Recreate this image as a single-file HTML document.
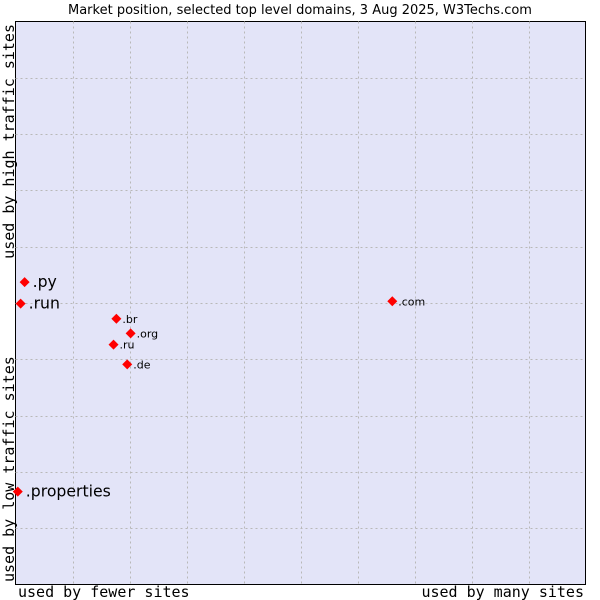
<!DOCTYPE html>
<html><head><meta charset="utf-8"><style>
body{margin:0;background:#fff}
svg{display:block}
text{font-family:"DejaVu Sans","Liberation Sans",sans-serif;fill:#000}
.ax{font-family:"DejaVu Sans Mono","Liberation Mono",monospace;font-size:15px}
</style></head><body>
<svg id="c" width="600" height="600">
<text x="300" y="14" text-anchor="middle" font-size="13">Market position, selected top level domains, 3 Aug 2025, W3Techs.com</text>
<rect x="15.5" y="21.5" width="570" height="563" fill="#e3e4f8" stroke="#000" stroke-width="1"/>
<g id="grid"></g>
<g id="pts"></g>
<text class="ax" x="18" y="597">used by fewer sites</text>
<text class="ax" x="584" y="597" text-anchor="end">used by many sites</text>
<text class="ax" transform="translate(14,582) rotate(-90)">used by low traffic sites</text>
<text class="ax" transform="translate(14,24) rotate(-90)" text-anchor="end">used by high traffic sites</text>
</svg>
<script>
const labels=[".py",".run",".com",".br",".org",".ru",".de",".properties"];
const xs=[1.6,0.9,66.1,17.7,20.2,17.2,19.6,0.4];
const ys=[53.7,49.9,50.3,47.2,44.6,42.6,39.1,16.5];
const big=[true,true,false,false,false,false,false,true];
const NS="http://www.w3.org/2000/svg";
const L=15.5,R=585.5,T=21.5,B=584.5;
const sx=v=>L+v/100*(R-L), sy=v=>B-v/100*(B-T);
const g=document.getElementById('grid'), p=document.getElementById('pts');
for(let i=1;i<10;i++){
  const v=document.createElementNS(NS,'line');
  
  
  v.setAttribute('x1',Math.round(sx(i*10))+.5);v.setAttribute('x2',Math.round(sx(i*10))+.5);
  v.setAttribute('y1',T);v.setAttribute('y2',B);
  v.setAttribute('stroke','#b8b8b8');v.setAttribute('stroke-dasharray','2,3');g.appendChild(v);
  const h=document.createElementNS(NS,'line');
  
  
  h.setAttribute('y1',Math.round(sy(i*10))+.5);h.setAttribute('y2',Math.round(sy(i*10))+.5);
  h.setAttribute('x1',L);h.setAttribute('x2',R);
  h.setAttribute('stroke','#b8b8b8');h.setAttribute('stroke-dasharray','2,3');g.appendChild(h);
}
labels.forEach((lb,i)=>{
  const x=sx(xs[i]),y=sy(ys[i]);
  const d=document.createElementNS(NS,'polygon');
  
  
  d.setAttribute('points',`${x},${y-5} ${x+5},${y} ${x},${y+5} ${x-5},${y}`);
  d.setAttribute('fill','#f00');p.appendChild(d);
  const t=document.createElementNS(NS,'text');
  
  
  t.setAttribute('x',x+(big[i]?8:6));t.setAttribute('y',y+(big[i]?5:4));
  t.setAttribute('font-size',big[i]?15.7:11);t.textContent=lb;p.appendChild(t);
});
</script>
</body></html>
